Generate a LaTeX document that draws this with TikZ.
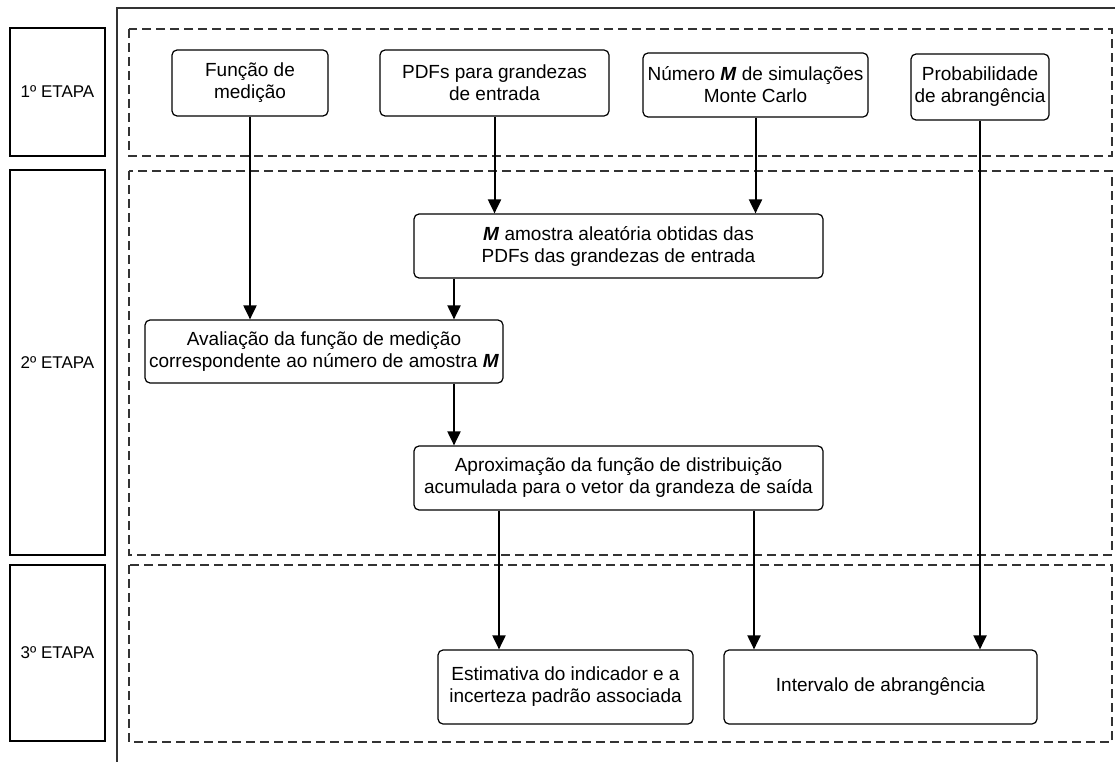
\documentclass[tikz,border=0pt]{standalone}
\usepackage{fontspec}
\setmainfont{Liberation Sans}
\usetikzlibrary{arrows.meta}

\begin{document}
\begin{tikzpicture}[x=1pt,y=-1pt]
\tikzset{etapa/.style={draw,line width=1.1pt,minimum width=95pt,inner sep=0pt,font=\fontsize{17}{20}\selectfont}}
\tikzset{caixa/.style={draw,rounded corners=5pt,line width=1.2pt,align=center,inner sep=0pt,font=\fontsize{19}{22}\selectfont}}
\tikzset{fase/.style={draw=black!80,dash pattern=on 9pt off 5pt,line width=1.2pt}}
\tikzset{seta/.style={line width=2pt,-{Triangle[length=14pt,width=13pt]}}}

\useasboundingbox (0,0) rectangle (1115,762);

\draw[black!80,line width=2pt] (117,762) -- (117,8) -- (1115,8);

\node[etapa,minimum height=128pt] (e1) at (57.5,92) {1º ETAPA};
\node[etapa,minimum height=385pt] (e2) at (57.5,362.5) {2º ETAPA};
\node[etapa,minimum height=176pt] (e3) at (57.5,653) {3º ETAPA};

\draw[fase] (129,29) rectangle (1112,156);
\draw[fase] (129,171) rectangle (1112,555);
\draw[fase] (129,565) rectangle (1112,742);

\node[caixa,minimum width=156pt,minimum height=66pt] (funcao) at (250,83) {Função de\\medição};
\node[caixa,minimum width=229pt,minimum height=66pt] (pdfs) at (494.5,83) {PDFs para grandezas\\de entrada};
\node[caixa,minimum width=225pt,minimum height=64pt] (numero) at (755.5,85) {Número \textbf{\textit{M}} de simulações\\Monte Carlo};
\node[caixa,minimum width=138pt,minimum height=66pt] (prob) at (980,87) {Probabilidade\\de abrangência};
\node[caixa,minimum width=409pt,minimum height=64pt] (amostra) at (618.5,246) {\textbf{\textit{M}} amostra aleatória obtidas das\\PDFs das grandezas de entrada};
\node[caixa,minimum width=358pt,minimum height=63pt] (avalia) at (324,351.5) {Avaliação da função de medição\\correspondente ao número de amostra \textbf{\textit{M}}};
\node[caixa,minimum width=409pt,minimum height=64pt] (aprox) at (618.5,478) {Aproximação da função de distribuição\\acumulada para o vetor da grandeza de saída};
\node[caixa,minimum width=255pt,minimum height=74pt] (estim) at (565.5,687) {Estimativa do indicador e a\\incerteza padrão associada};
\node[caixa,minimum width=313pt,minimum height=74pt] (intervalo) at (880.5,687) {Intervalo de abrangência};

\coordinate (c1) at (454,0);
\coordinate (c2) at (499,0);
\coordinate (c3) at (754,0);

\draw[seta] (funcao) -- (funcao |- avalia.north);
\draw[seta] (pdfs) -- (pdfs |- amostra.north);
\draw[seta] (numero) -- (numero |- amostra.north);
\draw[seta] (c1 |- amostra.south) -- (c1 |- avalia.north);
\draw[seta] (c1 |- avalia.south) -- (c1 |- aprox.north);
\draw[seta] (c2 |- aprox.south) -- (c2 |- estim.north);
\draw[seta] (c3 |- aprox.south) -- (c3 |- intervalo.north);
\draw[seta] (prob) -- (prob |- intervalo.north);

\end{tikzpicture}
\end{document}
